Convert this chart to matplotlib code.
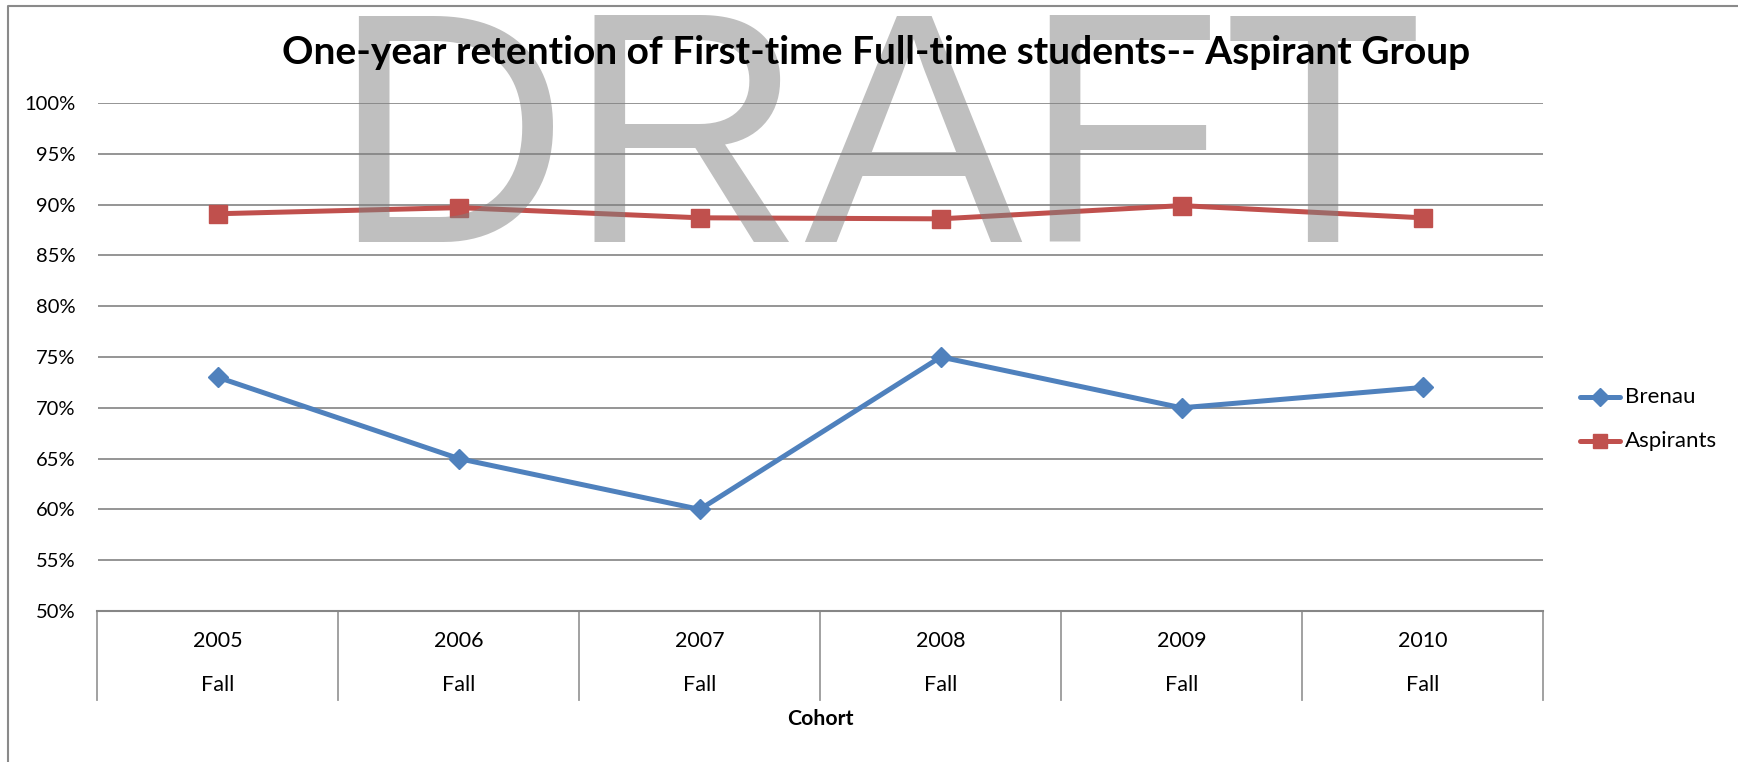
import matplotlib
matplotlib.use("Agg")
import matplotlib.pyplot as plt
from matplotlib.lines import Line2D

years = ["2005", "2006", "2007", "2008", "2009", "2010"]
season = ["Fall", "Fall", "Fall", "Fall", "Fall", "Fall"]
brenau = [73.0, 65.0, 60.0, 75.0, 70.0, 72.0]
aspirants = [89.1, 89.7, 88.7, 88.6, 89.9, 88.7]
yticks = [50, 55, 60, 65, 70, 75, 80, 85, 90, 95, 100]
title = "One-year retention of First-time Full-time students-- Aspirant Group"

W, H = 1738, 762
fig = plt.figure(figsize=(W / 100, H / 100), dpi=100)
FONT = ["Lato", "DejaVu Sans"]
plt.rcParams["font.family"] = FONT

def fx(px):
    return px / W

def fy(py):
    return 1 - py / H

left, right, top, bottom = 97.5, 1543, 103, 611
ax = fig.add_axes([fx(left), fy(bottom), fx(right) - fx(left), fy(top) - fy(bottom)])

x = list(range(len(years)))
blue = "#4F81BD"
red = "#C0504D"
ax.plot(x, brenau, color=blue, lw=3.6, marker="D", ms=10.5, zorder=3,
        solid_joinstyle="round", solid_capstyle="round")
ax.plot(x, aspirants, color=red, lw=3.6, marker="s", ms=13, zorder=3,
        solid_joinstyle="round", solid_capstyle="round")

ax.set_xlim(-0.5, len(years) - 0.5)
ax.set_ylim(50, 100)
ax.set_yticks(yticks)
ax.set_yticklabels([f"{v}%" for v in yticks], fontsize=14.5, color="#000000")
ax.tick_params(axis="y", length=0, pad=16)
ax.set_xticks([])
for s in ["top", "right", "left"]:
    ax.spines[s].set_visible(False)
ax.spines["bottom"].set_color("#868686")
ax.spines["bottom"].set_linewidth(1.5)
ax.grid(axis="y", color="#8c8c8c", lw=1.3)
ax.set_axisbelow(True)

# category table below axis
tr = ax.get_xaxis_transform()
axh = bottom - top
depth = (700 - bottom) / axh
for b in [i - 0.5 for i in range(len(years) + 1)]:
    ax.add_line(Line2D([b, b], [0, -depth], transform=tr, color="#9a9a9a",
                       lw=1.3, clip_on=False))
yr_y = -(641 - bottom) / axh
fall_y = -(685 - bottom) / axh
for i in x:
    ax.text(i, yr_y, years[i], transform=tr, ha="center", va="center", fontsize=15.5)
    ax.text(i, fall_y, season[i], transform=tr, ha="center", va="center", fontsize=15.5)

fig.text(fx(820), fy(719), "Cohort", ha="center", va="center", fontsize=15.3, fontweight="bold")

# legend
for yy, col, mk, ms, lab in [(397, blue, "D", 9, "Brenau"), (441, red, "s", 10.5, "Aspirants")]:
    fig.add_artist(Line2D([fx(1580), fx(1620)], [fy(yy), fy(yy)], color=col, lw=3.6,
                          marker=None, solid_capstyle="round"))
    fig.add_artist(Line2D([fx(1600)], [fy(yy)], color=col, marker=mk, ms=ms, lw=0))
    fig.text(fx(1625), fy(yy), lab, ha="left", va="center", fontsize=16)

# outer chart border
fig.add_artist(Line2D([fx(8), fx(8), fx(W + 5)], [fy(H + 5), fy(6), fy(6)],
                      color="#8a8a8a", lw=1.5))

# watermark
fig.text(fx(877), fy(242), "DRAFT", ha="center", va="baseline", fontsize=236,
         family=["Liberation Sans", "DejaVu Sans"], color="#808080", alpha=0.5, zorder=10)

fig.text(fx(876), fy(53), title, ha="center", va="center", fontsize=28,
         fontweight="bold", zorder=11)

fig.savefig("out.png", dpi=100, facecolor="white")
